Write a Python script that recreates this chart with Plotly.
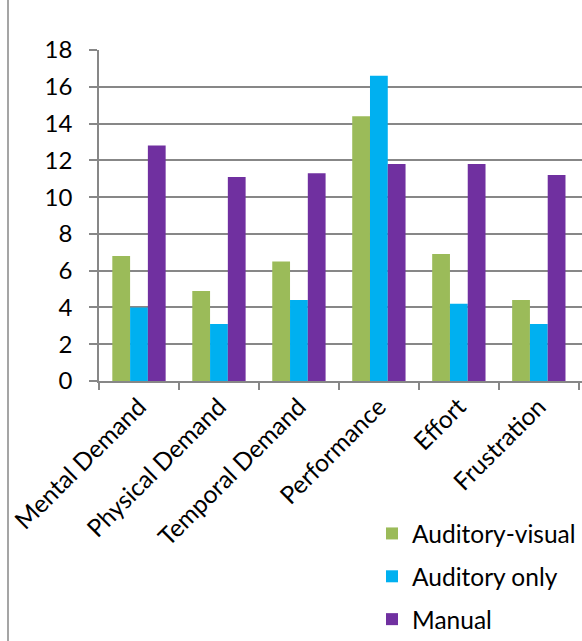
import plotly.graph_objects as go

categories = ["Mental Demand", "Physical Demand", "Temporal Demand", "Performance", "Effort", "Frustration"]
auditory_visual = [6.8, 4.9, 6.5, 14.4, 6.9, 4.4]
auditory_only = [4.0, 3.1, 4.4, 16.6, 4.2, 3.1]
manual = [12.8, 11.1, 11.3, 11.8, 11.8, 11.2]
y_ticks = [0, 2, 4, 6, 8, 10, 12, 14, 16, 18]

series = [
    ("Auditory-visual", auditory_visual, "#9BBB59"),
    ("Auditory only", auditory_only, "#00B0F0"),
    ("Manual", manual, "#7030A0"),
]

FONT = "Lato"
fig = go.Figure()
for name, vals, col in series:
    fig.add_trace(go.Bar(x=categories, y=vals, name=name, marker_color=col,
                         marker_line_width=0, legendgroup=name))

L, R, T, B = 99, 0, 50, 260
W, H = 582, 641
pw = W - L - R
ph = H - T - B

fig.update_layout(
    width=W, height=H,
    margin=dict(l=L, r=R, t=T, b=B, pad=0, autoexpand=False),
    paper_bgcolor="white", plot_bgcolor="white",
    barmode="group", bargap=0.333, bargroupgap=0,
    font=dict(family=FONT, size=24, color="black"),
    showlegend=True,
    legend=dict(x=(372 - L) / pw, y=-0.42 + 9 / ph, xanchor="left", yanchor="top",
                traceorder="grouped", tracegroupgap=8,
                font=dict(family=FONT, size=24.5, color="black"),
                bgcolor="rgba(0,0,0,0)"),
    xaxis=dict(type="category", range=[-0.5, 5.54], tickangle=-45, automargin=False,
               showline=True, linecolor="#878787", linewidth=1.5,
               ticks="outside", tickson="boundaries", ticklen=7, tickcolor="#878787",
               tickwidth=1.5, showgrid=False,
               tickfont=dict(family=FONT, size=24.5, color="black")),
    yaxis=dict(range=[0, 18], tickvals=y_ticks, ticktext=[str(v) for v in y_ticks],
               automargin=False,
               showline=True, linecolor="#878787", linewidth=1.5,
               ticks="outside", ticklen=8, tickcolor="#878787", tickwidth=1.5,
               showgrid=True, gridcolor="#878787", gridwidth=1.5, zeroline=False,
               ticklabelstandoff=12,
               tickfont=dict(family=FONT, size=24, color="black")),
)

# outer chart border (left edge visible)
fig.add_shape(type="line", xref="paper", yref="paper",
              x0=(8 - L) / pw, x1=(8 - L) / pw, y0=-B / ph - 0.1, y1=1 + T / ph + 0.1,
              line=dict(color="#878787", width=1.5))

fig.write_html("out.html")
